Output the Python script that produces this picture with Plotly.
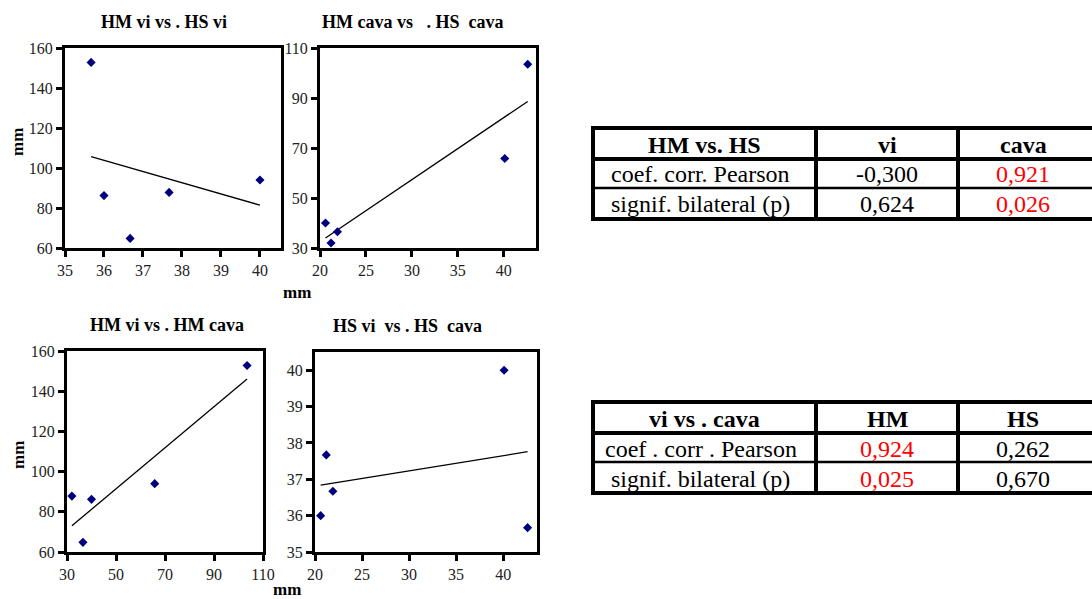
import numpy as np
import plotly.graph_objects as go

W, H = 1092, 599

# Measurements per subject (mm)
hm_vi = [152.8, 86.2, 64.8, 87.8, 94.0]
hs_vi = [35.67, 36.0, 36.67, 37.67, 40.0]
hm_cava = [103.5, 40.0, 36.5, 32.0, 65.8]
hs_cava = [42.6, 20.6, 21.9, 21.2, 40.1]

# Correlation tables
t1_header = ["HM vs. HS", "vi", "cava"]
t2_header = ["vi vs . cava", "HM", "HS"]
row_labels = ["coef. corr. Pearson", "signif. bilateral (p)"]
row_labels2 = ["coef . corr . Pearson", "signif. bilateral (p)"]
t1_values = [["-0,300", "0,921"], ["0,624", "0,026"]]
t2_values = [["0,924", "0,262"], ["0,025", "0,670"]]
t1_colors = [["black", "red"], ["black", "red"]]
t2_colors = [["red", "black"], ["red", "black"]]

SERIF = "Liberation Serif"


def px_x(p):
    return p / W


def px_y(p):
    return 1 - p / H


def label(text, x, y, size, color="black", angle=0):
    return dict(text=text, x=px_x(x), y=px_y(y), xref="paper", yref="paper",
                showarrow=False, textangle=angle, xanchor="center", yanchor="middle",
                font=dict(family=SERIF, size=size, color=color))


# panel: (x data, y data, title, x range, y range, x dtick, y dtick, box in px [l, r, t, b], title centre x)
panels = [
    (hs_vi, hm_vi, "HM vi vs . HS vi", [35, 40.54], [60, 160], 1, 20, [65, 281, 48, 248], 164),
    (hs_cava, hm_cava, "HM cava vs\u00a0\u00a0\u00a0. HS\u00a0 cava", [20, 43.5], [30, 110], 5, 20, [320, 536, 48, 248], 413),
    (hm_cava, hm_vi, "HM vi vs . HM cava", [30, 110], [60, 160], 20, 20, [67, 263, 351, 552], 167),
    (hs_cava, hs_vi, "HS vi\u00a0 vs . HS\u00a0 cava", [20, 43.6], [35, 40.5], 5, 1, [315, 537, 352, 552], 407),
]

fig = go.Figure()
annotations = []
shapes = []

for i, (xs, ys, title, xr, yr, dx, dy, box, tx) in enumerate(panels):
    n = i + 1
    xa = "x" if n == 1 else f"x{n}"
    ya = "y" if n == 1 else f"y{n}"
    l, r, t, b = box
    axis_common = dict(
        showline=True, linecolor="black", linewidth=3, mirror=True,
        ticks="outside", ticklen=6, tickwidth=3, tickcolor="black",
        showgrid=False, zeroline=False, automargin=False,
        tickfont=dict(family=SERIF, size=16, color="#222"),
    )
    fig.update_layout(**{
        ("xaxis" if n == 1 else f"xaxis{n}"): dict(
            domain=[px_x(l), px_x(r)], range=xr, dtick=dx, tick0=xr[0],
            anchor=ya, **axis_common),
        ("yaxis" if n == 1 else f"yaxis{n}"): dict(
            domain=[px_y(b), px_y(t)], range=yr, dtick=dy, tick0=yr[0],
            anchor=xa, **axis_common),
    })
    # least-squares trend line over the span of the data
    xa_arr = np.array(xs)
    slope, icept = np.polyfit(xa_arr, np.array(ys), 1)
    xl = np.array([xa_arr.min(), xa_arr.max()])
    fig.add_trace(go.Scatter(x=xl, y=slope * xl + icept, mode="lines",
                             line=dict(color="black", width=1.3),
                             xaxis=xa, yaxis=ya, hoverinfo="skip"))
    fig.add_trace(go.Scatter(x=xs, y=ys, mode="markers",
                             marker=dict(symbol="diamond", size=7, color="#00007f"),
                             xaxis=xa, yaxis=ya))
    annotations.append(label(f"<b>{title}</b>", tx, t - 26, 18))

# axis unit labels
for yc in (142, 455):
    annotations.append(label("<b>mm</b>", 18, yc, 17, angle=-90))
for xc, yc in ((297, 292), (287, 589)):
    annotations.append(label("<b>mm</b>", xc, yc, 17))


def add_table(top, header, labels, values, colors):
    left, c1, c2, right = 593, 816, 958, 1100
    rows = [top, top + 31, top + 60, top + 91]
    lw = 4

    def hline(y, w):
        shapes.append(dict(type="line", xref="paper", yref="paper",
                           x0=px_x(left), x1=px_x(right), y0=px_y(y), y1=px_y(y),
                           line=dict(color="black", width=w)))

    shapes.append(dict(type="rect", xref="paper", yref="paper",
                       x0=px_x(left), x1=px_x(right), y0=px_y(rows[3]), y1=px_y(rows[0]),
                       line=dict(color="black", width=lw)))
    hline(rows[1], lw)
    hline(rows[2], 2.5)
    for cx in (c1, c2):
        shapes.append(dict(type="line", xref="paper", yref="paper",
                           x0=px_x(cx), x1=px_x(cx), y0=px_y(rows[3]), y1=px_y(rows[0]),
                           line=dict(color="black", width=lw)))
    centers = [(left + c1) / 2, (c1 + c2) / 2, (c2 + right) / 2 - 6]
    for j, h in enumerate(header):
        annotations.append(label(f"<b>{h}</b>", centers[j], (rows[0] + rows[1]) / 2 + 1, 24))
    for k in range(2):
        yc = (rows[k + 1] + rows[k + 2]) / 2 + 1
        annotations.append(label(labels[k], centers[0] - 4, yc, 24))
        for j in range(2):
            annotations.append(label(values[k][j], centers[j + 1], yc, 24, colors[k][j]))


add_table(128, t1_header, row_labels, t1_values, t1_colors)
add_table(402, t2_header, row_labels2, t2_values, t2_colors)

fig.update_layout(
    width=W, height=H, margin=dict(l=0, r=0, t=0, b=0),
    paper_bgcolor="white", plot_bgcolor="white",
    showlegend=False, annotations=annotations, shapes=shapes,
)

fig.write_html("out.html")
